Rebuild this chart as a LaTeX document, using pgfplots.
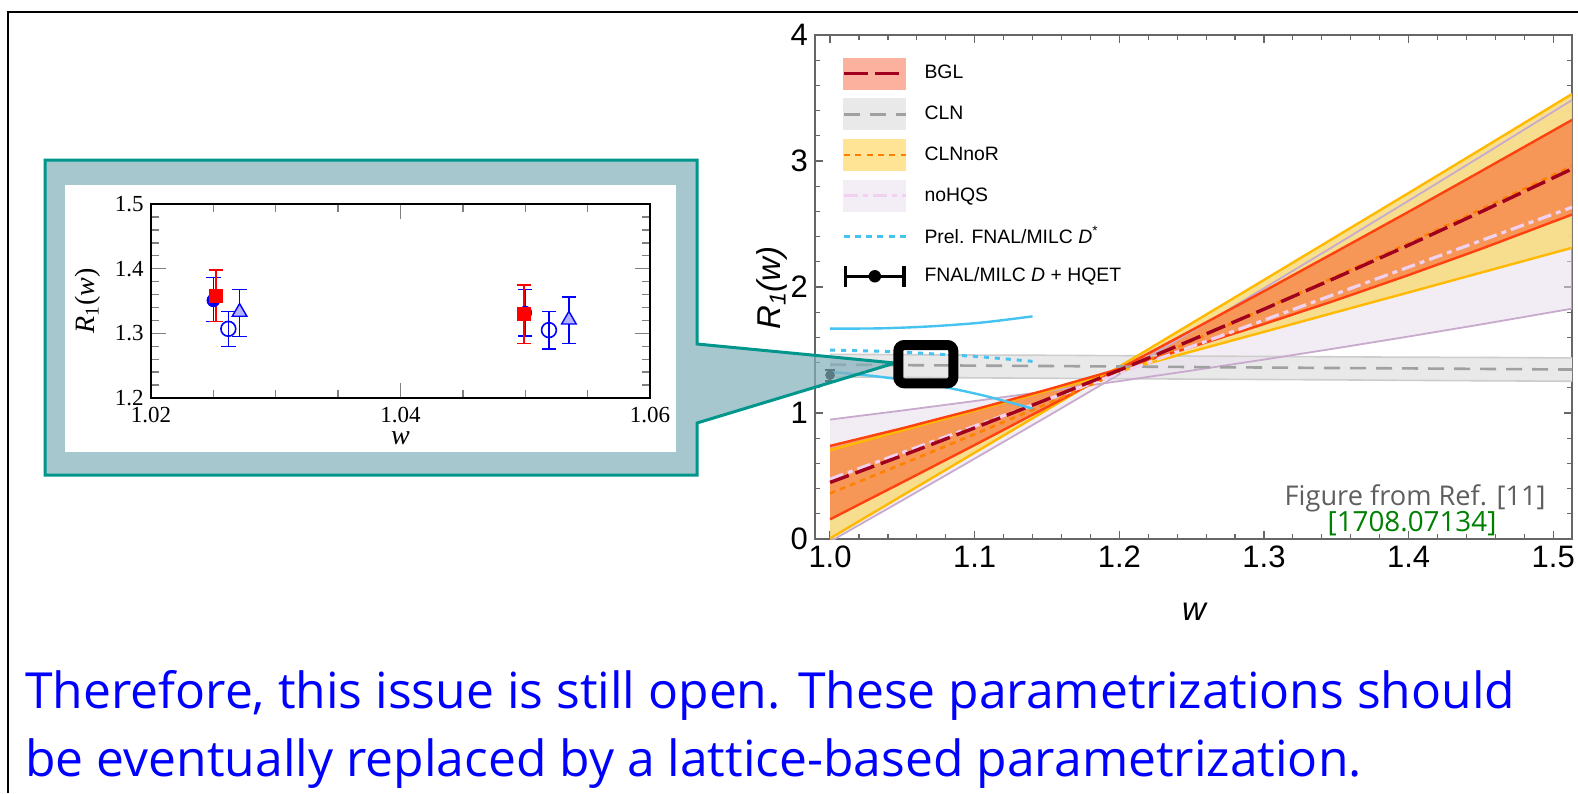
\documentclass[border=0pt]{standalone}
\usepackage{fontspec}
\setmainfont{Liberation Sans}
\newfontfamily\seriffont{Liberation Serif}
\newfontfamily\osans{Open Sans}
\usepackage{pgfplots}
\pgfplotsset{compat=1.18}
\usepackage{pgfplotstable}

\definecolor{bglfill}{RGB}{246,122,66}
\definecolor{bglsw}{RGB}{252,176,158}
\definecolor{bglline}{RGB}{255,65,15}
\definecolor{bglmid}{RGB}{160,0,30}
\definecolor{clnfill}{RGB}{233,233,233}
\definecolor{clnline}{RGB}{205,205,205}
\definecolor{clnmid}{RGB}{160,160,160}
\definecolor{nrfill}{RGB}{249,219,124}
\definecolor{nrsw}{RGB}{255,228,150}
\definecolor{nrline}{RGB}{255,185,0}
\definecolor{nrmid}{RGB}{255,128,0}
\definecolor{nhfill}{RGB}{233,224,238}
\definecolor{nhsw}{RGB}{243,238,246}
\definecolor{nhline}{RGB}{200,170,205}
\definecolor{nhmid}{RGB}{240,210,240}
\definecolor{dstar}{RGB}{70,195,240}
\definecolor{teal1}{RGB}{0,150,140}
\definecolor{calfill}{RGB}{131,176,188}
\definecolor{refgray}{RGB}{95,95,95}
\definecolor{refgreen}{RGB}{0,128,0}

\pgfplotstableread{
w      bglA  bglB  bglM  nrC   nrD   nrM   nhE   nhF    nhM   clnU  clnM  clnL
1.000  0.739 0.156 0.449 0.705 0.005 0.362 0.948 -0.020 0.475 1.466 1.384 1.286
1.050  0.879 0.450 0.662 0.862 0.345 0.595 1.020 0.307  0.685 1.463 1.380 1.283
1.100  1.028 0.746 0.882 1.018 0.685 0.832 1.095 0.638  0.896 1.460 1.376 1.279
1.150  1.185 1.047 1.108 1.175 1.026 1.074 1.173 0.971  1.106 1.458 1.373 1.276
1.200  1.350 1.350 1.340 1.331 1.368 1.320 1.253 1.308  1.316 1.455 1.369 1.273
1.250  1.524 1.657 1.579 1.488 1.712 1.570 1.337 1.647  1.527 1.452 1.365 1.269
1.300  1.706 1.967 1.824 1.644 2.056 1.825 1.424 1.990  1.737 1.449 1.361 1.266
1.350  1.896 2.281 2.075 1.801 2.401 2.085 1.514 2.336  1.947 1.446 1.357 1.263
1.400  2.095 2.597 2.332 1.957 2.746 2.348 1.607 2.685  2.158 1.443 1.354 1.259
1.450  2.302 2.918 2.596 2.114 3.093 2.616 1.703 3.037  2.368 1.441 1.350 1.256
1.513  2.575 3.326 2.937 2.311 3.532 2.960 1.828 3.484  2.633 1.437 1.345 1.252
}\bands

% band outlines (one boundary forward, the other backward)
\pgfplotstableread{
w R
1.000 1.466
1.513 1.437
1.513 1.252
1.000 1.286
}\clnpoly
\pgfplotstableread{
w R
1.000 0.948
1.050 1.020
1.100 1.095
1.150 1.173
1.200 1.253
1.250 1.337
1.300 1.424
1.350 1.514
1.400 1.607
1.450 1.703
1.513 1.828
1.513 3.484
1.450 3.037
1.400 2.685
1.350 2.336
1.300 1.990
1.250 1.647
1.200 1.308
1.150 0.971
1.100 0.638
1.050 0.307
1.000 -0.020
}\nhpoly
\pgfplotstableread{
w R
1.000 0.705
1.050 0.862
1.100 1.018
1.150 1.175
1.200 1.331
1.250 1.488
1.300 1.644
1.350 1.801
1.400 1.957
1.450 2.114
1.513 2.311
1.513 3.532
1.450 3.093
1.400 2.746
1.350 2.401
1.300 2.056
1.250 1.712
1.200 1.368
1.150 1.026
1.100 0.685
1.050 0.345
1.000 0.005
}\nrpoly
\pgfplotstableread{
w R
1.000 0.739
1.050 0.879
1.100 1.028
1.150 1.185
1.200 1.350
1.250 1.524
1.300 1.706
1.350 1.896
1.400 2.095
1.450 2.302
1.513 2.575
1.513 3.326
1.450 2.918
1.400 2.597
1.350 2.281
1.300 1.967
1.250 1.657
1.200 1.350
1.150 1.047
1.100 0.746
1.050 0.450
1.000 0.156
}\bglpoly

\pgfplotstableread{
w     up    mid   lo
1.000 1.670 1.500 1.326
1.035 1.672 1.490 1.287
1.070 1.688 1.470 1.226
1.105 1.718 1.445 1.142
1.140 1.767 1.410 1.035
}\dstartab

\pgfplotstableread{
w     R     ep    em
1.000 1.300 0.045 0.045
}\fnal

\pgfplotstableread{
w      R     ep    em
1.0250 1.351 0.035 0.033
1.0500 1.332 0.036 0.036
}\insbc
\pgfplotstableread{
w      R     ep    em
1.0252 1.358 0.040 0.040
1.0499 1.330 0.045 0.046
}\insrs
\pgfplotstableread{
w      R     ep    em
1.0262 1.307 0.027 0.027
1.0519 1.305 0.029 0.029
}\insoc
\pgfplotstableread{
w      R     ep    em
1.0271 1.333 0.035 0.038
1.0535 1.321 0.035 0.037
}\instr

\pgfplotsset{
  myerr/.style={error bars/.cd, y dir=both, y explicit,
    error bar style={line width=0.7pt},
    error mark options={rotate=90, mark size=3.6pt, line width=0.7pt}},
}

\begin{document}
\begin{tikzpicture}
\path[use as bounding box, fill=white] (0pt,0pt) rectangle (789pt,-396.5pt);

\begin{axis}[
  at={(407.5pt,-269.5pt)}, anchor=south west,
  scale only axis, width=378.5pt, height=252pt,
  xmin=0.9896, xmax=1.513, ymin=0, ymax=4,
  xtick={1,1.1,1.2,1.3,1.4,1.5}, xticklabels={1.0,1.1,1.2,1.3,1.4,1.5},
  ytick={0,1,2,3,4}, yticklabels={0,1,2,3,4},
  minor x tick num=4, minor y tick num=4,
  tick align=inside,
  major tick length=4pt, minor tick length=2.5pt,
  axis line style={black!60, line width=0.65pt},
  every tick/.append style={black!60, line width=0.6pt},
  tick label style={font=\fontsize{15.5}{16}\selectfont},
  xlabel={\textit{w}}, ylabel={\textit{R\textsubscript{1}(w)}},
  label style={font=\fontsize{16.5}{18}\selectfont},
  xlabel style={at={(axis description cs:0.502,-0.145)}, anchor=center},
  ylabel style={at={(axis description cs:-0.0568,0.498)}, anchor=center},
  legend style={at={(axis description cs:0.0353,0.956)}, anchor=north west,
    draw=none, fill=none, inner sep=0pt, row sep=4.5pt, column sep=8.5pt,
    font=\fontsize{9.7}{11}\selectfont, nodes={inner sep=0pt}},
  legend cell align=left,
]
\addlegendimage{legend image code/.code={
  \fill[bglsw] (0pt,-7.75pt) rectangle (31pt,7.75pt);
  \draw[bglmid, line width=1.7pt, dash pattern=on 12pt off 3.5pt] (0pt,0pt) -- (31pt,0pt);}}
\addlegendentry{BGL}
\addlegendimage{legend image code/.code={
  \fill[clnfill] (0pt,-7.75pt) rectangle (31pt,7.75pt);
  \draw[clnmid, line width=1.3pt, dash pattern=on 8pt off 5pt] (0pt,0pt) -- (31pt,0pt);}}
\addlegendentry{CLN}
\addlegendimage{legend image code/.code={
  \fill[nrsw] (0pt,-7.75pt) rectangle (31pt,7.75pt);
  \draw[nrmid, line width=1.3pt, dash pattern=on 3pt off 2.7pt] (0pt,0pt) -- (31pt,0pt);}}
\addlegendentry{CLNnoR}
\addlegendimage{legend image code/.code={
  \fill[nhsw] (0pt,-7.75pt) rectangle (31pt,7.75pt);
  \draw[nhmid, line width=1.4pt, dash pattern=on 7pt off 2.5pt on 2.5pt off 2.5pt] (0pt,0pt) -- (31pt,0pt);}}
\addlegendentry{noHQS}
\addlegendimage{legend image code/.code={
  \path[draw=none, fill=none] (0pt,-7.75pt) rectangle (31pt,7.75pt);
  \draw[dstar, line width=1.5pt, dash pattern=on 3pt off 2.6pt] (0pt,0pt) -- (31pt,0pt);}}
\addlegendentry{Prel. FNAL/MILC \textit{D}\textsuperscript{*}}
\addlegendimage{legend image code/.code={
  \path[draw=none, fill=none] (0pt,-7.75pt) rectangle (31pt,7.75pt);
  \draw[black, line width=1.7pt] (0.9pt,0pt) -- (30.1pt,0pt);
  \draw[black, line width=1.7pt] (0.9pt,-5.2pt) -- (0.9pt,5.2pt);
  \draw[black, line width=1.7pt] (30.1pt,-5.2pt) -- (30.1pt,5.2pt);
  \fill[black] (15.5pt,0pt) circle (2.9pt);}}
\addlegendentry{FNAL/MILC \textit{D} + HQET}

% fills
\addplot[forget plot, draw=none, fill=clnfill] table[x=w,y=R]{\clnpoly};
\addplot[forget plot, draw=none, fill=nhfill, fill opacity=0.55] table[x=w,y=R]{\nhpoly};
\addplot[forget plot, draw=none, fill=nrfill, fill opacity=0.85] table[x=w,y=R]{\nrpoly};
\addplot[forget plot, draw=none, fill=bglfill, fill opacity=0.7] table[x=w,y=R]{\bglpoly};
% boundaries
\addplot[forget plot, clnline, line width=0.8pt] table[x=w,y=clnU]{\bands};
\addplot[forget plot, clnline, line width=0.8pt] table[x=w,y=clnL]{\bands};
\addplot[forget plot, nhline, line width=0.9pt] table[x=w,y=nhE]{\bands};
\addplot[forget plot, nhline, line width=0.9pt] table[x=w,y=nhF]{\bands};
\addplot[forget plot, nrline, line width=1.2pt] table[x=w,y=nrC]{\bands};
\addplot[forget plot, nrline, line width=1.2pt] table[x=w,y=nrD]{\bands};
\addplot[forget plot, bglline, line width=1.2pt] table[x=w,y=bglA]{\bands};
\addplot[forget plot, bglline, line width=1.2pt] table[x=w,y=bglB]{\bands};
% central lines
\addplot[forget plot, clnmid, line width=1.3pt, dash pattern=on 8pt off 5pt] table[x=w,y=clnM]{\bands};
\addplot[forget plot, nrmid, line width=1.3pt, dash pattern=on 2.8pt off 2.6pt] table[x=w,y=nrM]{\bands};
\addplot[forget plot, nhmid, line width=1.6pt, dash pattern=on 7pt off 2.5pt on 2.5pt off 2.5pt] table[x=w,y=nhM]{\bands};
\addplot[forget plot, bglmid, line width=1.7pt, dash pattern=on 10pt off 3.5pt] table[x=w,y=bglM]{\bands};
% preliminary D*
\addplot[forget plot, dstar, line width=1.2pt, smooth] table[x=w,y=up]{\dstartab};
\addplot[forget plot, dstar, line width=1.2pt, smooth] table[x=w,y=lo]{\dstartab};
\addplot[forget plot, dstar, line width=1.5pt, dash pattern=on 2.5pt off 3pt, smooth] table[x=w,y=mid]{\dstartab};
% FNAL/MILC D + HQET
\addplot[forget plot, black, only marks, mark=*, mark size=2.2pt,
  error bars/.cd, y dir=both, y explicit,
  error bar style={line width=1pt}, error mark options={rotate=90, mark size=2.5pt, line width=1pt}]
  table[x=w, y=R, y error plus=ep, y error minus=em]{\fnal};
\end{axis}

% callout box
\begin{scope}[x=0.5pt,y=-0.5pt]
\path[fill=calfill, fill opacity=0.7, draw=teal1, line width=1.5pt, line join=miter]
  (45,160) -- (697,160) -- (697,344) -- (895,363) -- (697,423) -- (697,475) -- (45,475) -- cycle;
\fill[white] (65,185) rectangle (676,452);
\end{scope}

% inset
\begin{axis}[
  at={(75.5pt,-199pt)}, anchor=south west,
  scale only axis, width=249.5pt, height=97pt,
  xmin=1.02, xmax=1.06, ymin=1.2, ymax=1.5,
  xtick={1.02,1.04,1.06}, xticklabels={1.02,1.04,1.06},
  ytick={1.2,1.3,1.4,1.5}, yticklabels={1.2,1.3,1.4,1.5},
  minor x tick num=3, minor y tick num=4,
  tick align=inside, major tick length=7.5pt, minor tick length=4pt,
  axis line style={line width=0.8pt},
  every tick/.append style={line width=0.7pt},
  tick label style={font=\seriffont\fontsize{11.5}{12}\selectfont, inner sep=1pt},
  xticklabel style={yshift=-3.5pt},
  yticklabel style={xshift=-2.5pt},
  xlabel={\textit{w}}, ylabel={\textit{R}\textsubscript{1}(\textit{w})},
  label style={font=\seriffont\fontsize{14}{15}\selectfont, inner sep=0pt},
  xlabel style={at={(axis description cs:0.5,-0.208)}, anchor=center},
  ylabel style={at={(axis description cs:-0.127,0.5)}, anchor=center},
]
\addplot[blue, only marks, mark=*, mark size=3.2pt, myerr]
  table[x=w, y=R, y error plus=ep, y error minus=em]{\insbc};
\addplot[red, only marks, mark=square*, mark size=3.2pt, myerr]
  table[x=w, y=R, y error plus=ep, y error minus=em]{\insrs};
\addplot[blue, only marks, mark=o, mark size=3.7pt, mark options={line width=0.8pt}, myerr]
  table[x=w, y=R, y error plus=ep, y error minus=em]{\insoc};
\addplot[blue, only marks, mark=triangle*, mark size=4.2pt, mark options={fill=blue!30, draw=blue, line width=0.7pt}, myerr]
  table[x=w, y=R, y error plus=ep, y error minus=em]{\instr};
\end{axis}

% magnifier box
\draw[black, line width=5pt, rounded corners=3pt] (449.15pt,-172.5pt) rectangle (476.65pt,-191.65pt);

% texts
\node[anchor=base east, inner sep=0pt, text=refgray, font=\osans\fontsize{13.6}{15}\selectfont] at (773pt,-252.5pt) {Figure from Ref. [11]};
\node[anchor=base, inner sep=0pt, text=refgreen, font=\osans\fontsize{13.9}{15}\selectfont] at (706pt,-265.85pt) {[1708.07134]};
\node[anchor=base west, inner sep=0pt, text=blue, font=\osans\fontsize{24.9}{30}\selectfont] at (12.5pt,-354.15pt) {Therefore, this issue is still open. These parametrizations should};
\node[anchor=base west, inner sep=0pt, text=blue, font=\osans\fontsize{24.9}{30}\selectfont] at (12.5pt,-388.35pt) {be eventually replaced by a lattice-based parametrization.};

% slide frame
\draw[black, line width=1.25pt] (4pt,-396.5pt) -- (4pt,-6pt) -- (789pt,-6pt);
\end{tikzpicture}
\end{document}
